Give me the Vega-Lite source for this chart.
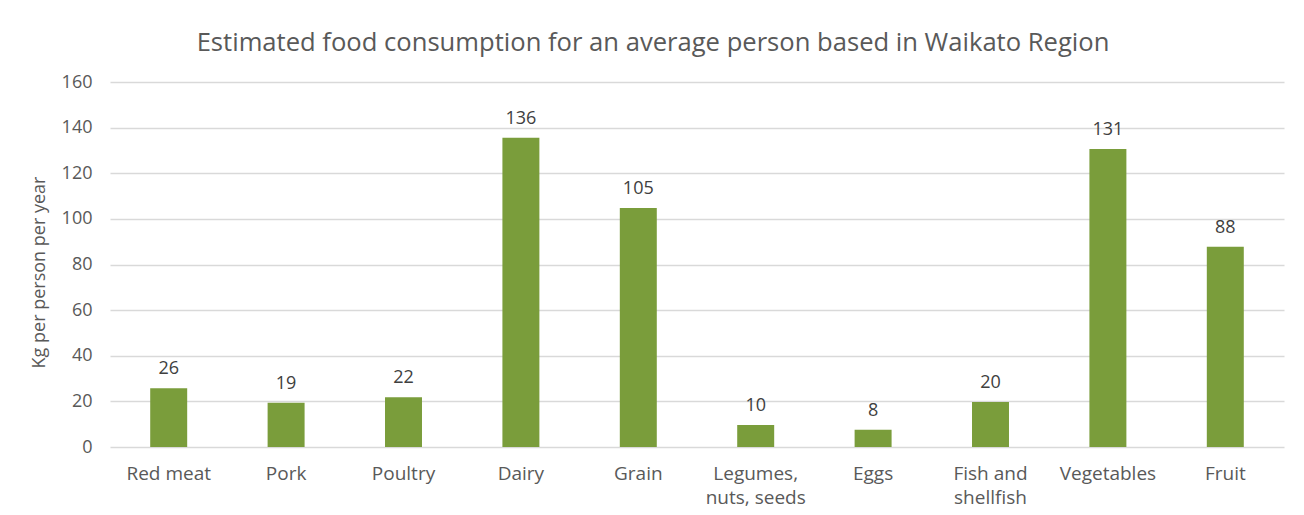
{
  "$schema": "https://vega.github.io/schema/vega-lite/v6.json",
  "autosize": "none",
  "width": 1174,
  "height": 365,
  "padding": {"left": 110, "top": 82, "right": 20, "bottom": 68},
  "background": "white",
  "title": {
    "text": "Estimated food consumption for an average person based in Waikato Region",
    "font": "Open Sans",
    "fontSize": 25.6,
    "fontWeight": "normal",
    "color": "#595959",
    "anchor": "middle",
    "dx": -44,
    "offset": 16
  },
  "data": {
    "values": [
      {"category": "Red meat", "value": 25.7},
      {"category": "Pork", "value": 19.4},
      {"category": "Poultry", "value": 21.8},
      {"category": "Dairy", "value": 135.6},
      {"category": "Grain", "value": 104.8},
      {"category": "Legumes, nuts, seeds", "value": 9.6},
      {"category": "Eggs", "value": 7.6},
      {"category": "Fish and shellfish", "value": 19.7},
      {"category": "Vegetables", "value": 130.6},
      {"category": "Fruit", "value": 87.8}
    ]
  },
  "encoding": {
    "x": {
      "field": "category",
      "type": "nominal",
      "sort": null,
      "scale": {"paddingInner": 0.685, "paddingOuter": 0.3425},
      "axis": {
        "title": null,
        "domain": false,
        "ticks": false,
        "labelAngle": 0,
        "labelPadding": 17,
        "labelFont": "Open Sans",
        "labelFontSize": 19,
        "labelColor": "#595959",
        "labelLineHeight": 24,
        "labelExpr": "datum.value == 'Legumes, nuts, seeds' ? ['Legumes,', 'nuts, seeds'] : datum.value == 'Fish and shellfish' ? ['Fish and', 'shellfish'] : datum.value"
      }
    },
    "y": {
      "field": "value",
      "type": "quantitative",
      "scale": {"domain": [0, 160], "nice": false},
      "axis": {
        "title": "Kg per person per year",
        "titleFont": "Open Sans",
        "titleFontSize": 18,
        "titleFontWeight": "normal",
        "titleColor": "#595959",
        "titleX": -62,
        "titleY": 190,
        "values": [0, 20, 40, 60, 80, 100, 120, 140, 160],
        "domain": false,
        "ticks": false,
        "labelPadding": 18,
        "labelFont": "Open Sans",
        "labelFontSize": 18,
        "labelColor": "#595959",
        "gridColor": "#d9d9d9",
        "gridWidth": 1.3
      }
    }
  },
  "layer": [
    {"mark": {"type": "bar", "color": "#7a9d3b"}},
    {
      "mark": {"type": "text", "baseline": "alphabetic", "dy": -14, "font": "Open Sans", "fontSize": 18, "color": "#404040"},
      "encoding": {"text": {"field": "value", "type": "quantitative", "format": ".0f"}}
    }
  ],
  "config": {"view": {"stroke": null}}
}
